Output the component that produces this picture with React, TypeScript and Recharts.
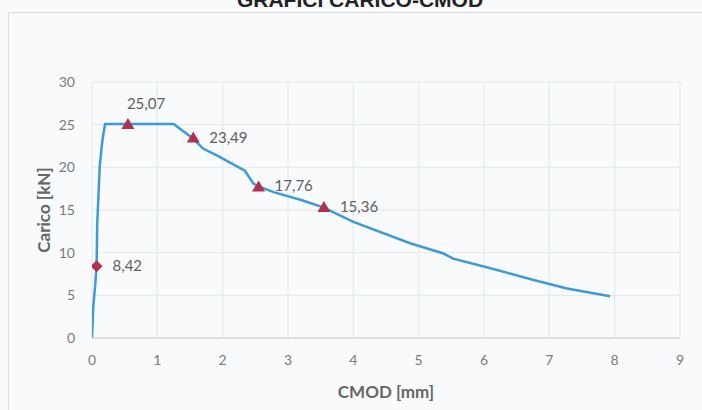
import { ComposedChart, Line, Scatter, XAxis, YAxis, CartesianGrid } from 'recharts';

// curve
const cmod = [0, 0.02, 0.05, 0.07, 0.08, 0.12, 0.16, 0.2, 0.55, 1.25, 1.54, 1.7, 1.91, 2.34, 2.47, 2.54, 2.78, 3.19, 3.54, 4.0, 4.87, 5.38, 5.53, 6.04, 6.76, 7.27, 7.93];
const carico = [0, 3.7, 6.3, 8.42, 13.4, 20.3, 23.2, 25.07, 25.07, 25.07, 23.4, 22.2, 21.4, 19.6, 18.1, 17.8, 17.1, 16.2, 15.3, 13.6, 11.1, 9.9, 9.3, 8.3, 6.8, 5.8, 4.9];

// marked points (diamond = first, triangles = rest)
const markCmod = [0.07, 0.55, 1.55, 2.55, 3.55];
const markLoad = [8.42, 25.07, 23.49, 17.76, 15.36];

const xTicks = [0, 1, 2, 3, 4, 5, 6, 7, 8, 9];
const yTicks = [0, 5, 10, 15, 20, 25, 30];

const curve = cmod.map((x, i) => ({ x, y: carico[i] }));
const marks = markCmod.map((x, i) => ({ x, y: markLoad[i] }));

const LINE = '#3d9bd6';
const MARK = '#b3304f';
const TXT = '#666';
const FONT = 'Lato, "Open Sans", sans-serif';

const Marker = (props: any) => {
  const { cx, cy, index, payload } = props;
  const label = payload.y.toFixed(2).replace('.', ',');
  const shape =
    index === 0 ? (
      <polygon points={`${cx},${cy - 6} ${cx + 6},${cy} ${cx},${cy + 6} ${cx - 6},${cy}`} fill={MARK} />
    ) : (
      <polygon points={`${cx},${cy - 6} ${cx + 6.5},${cy + 5} ${cx - 6.5},${cy + 5}`} fill={MARK} />
    );
  const tx = index === 1 ? cx - 1 : cx + 16;
  const ty = index === 1 ? cy - 15 : cy + 5;
  return (
    <g>
      {shape}
      <text x={tx} y={ty} fill="#5f5f5f" fontSize={15} fontFamily={FONT}>{label}</text>
    </g>
  );
};

export default function App() {
  return (
    <div style={{ position: 'fixed', left: 0, top: 0, width: 702, height: 410, background: '#f8fafb', overflow: 'hidden' }}>
      <div style={{ position: 'absolute', left: 8, top: 12, width: 720, height: 420, border: '1px solid #d8dddf' }} />
      <div style={{ position: 'absolute', left: 0, top: -12, width: 720, textAlign: 'center', fontFamily: '"Liberation Sans", Arial, sans-serif', fontWeight: 'bold', fontSize: 21, color: '#222' }}>
        GRAFICI CARICO-CMOD
      </div>
      <div style={{ position: 'absolute', left: 0, top: 0 }}>
        <ComposedChart width={702} height={410} margin={{ top: 82, right: 22, bottom: 42, left: 32 }}>
          <CartesianGrid stroke="#e2e8eb" strokeWidth={1} />
          <XAxis
            type="number"
            dataKey="x"
            domain={[0, 9]}
            ticks={xTicks}
            allowDataOverflow
            height={30}
            tickSize={0}
            tickMargin={17}
            axisLine={{ stroke: '#cfd3d5' }}
            tick={{ fontSize: 14, fill: '#7a7a7a', fontFamily: FONT }}
            label={{ value: 'CMOD [mm]', position: 'insideBottom', offset: -30, fill: TXT, fontSize: 17, fontWeight: 'bold', fontFamily: FONT }}
          />
          <YAxis
            type="number"
            dataKey="y"
            domain={[0, 30]}
            ticks={yTicks}
            width={60}
            tickSize={0}
            tickMargin={17}
            axisLine={false}
            tick={{ fontSize: 14, fill: '#7a7a7a', fontFamily: FONT }}
            label={{ value: 'Carico [kN]', angle: -90, position: 'center', dx: -18, fill: TXT, fontSize: 17, fontWeight: 'bold', fontFamily: FONT }}
          />
          <Line data={curve} dataKey="y" stroke={LINE} strokeWidth={2.5} dot={false} isAnimationActive={false} />
          <Scatter data={marks} dataKey="y" shape={<Marker />} isAnimationActive={false} />
        </ComposedChart>
      </div>
    </div>
  );
}
